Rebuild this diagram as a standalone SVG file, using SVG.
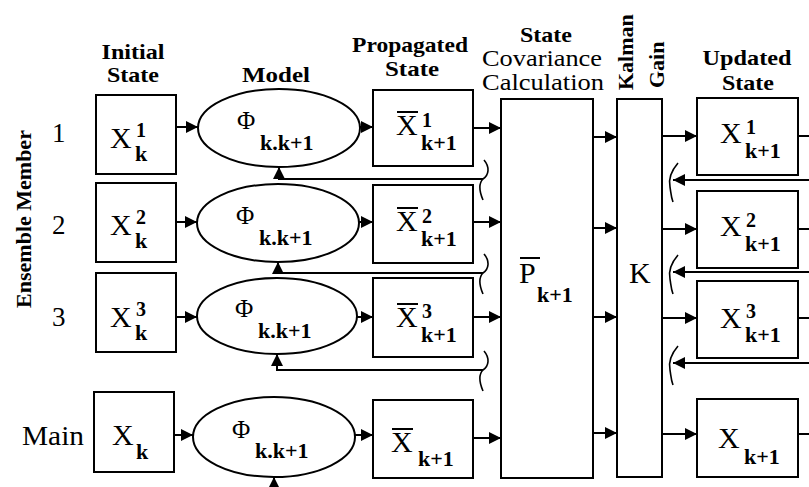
<svg xmlns="http://www.w3.org/2000/svg" width="809" height="487" viewBox="0 0 809 487">
<defs>
<marker id="ah" viewBox="0 0 12 12" refX="12" refY="6" markerWidth="12" markerHeight="12" markerUnits="userSpaceOnUse" orient="auto">
<path d="M0,0 L12,6 L0,12 z" fill="#000"/>
</marker>
<style>
.box{fill:#fff;stroke:#000;stroke-width:2}
.ln{fill:none;stroke:#000;stroke-width:2}
.sq{fill:none;stroke:#000;stroke-width:1.6}
.arr{fill:none;stroke:#000;stroke-width:2;marker-end:url(#ah)}
.t{font-family:'Liberation Serif','DejaVu Serif',serif;fill:#000}
.hd{font-size:22px;font-weight:bold;text-anchor:middle}
.hr{font-size:23px;text-anchor:middle}
.lb{font-size:27px}
.X{font-size:30px}
.sup{font-size:20px;font-weight:bold}
.sub{font-size:22px;font-weight:bold}
.phi{font-size:25px}
</style>
</defs>
<rect width="809" height="487" fill="#fff"/>
<g font-family="Liberation Serif, DejaVu Serif, serif">
<g id="labels">
<text class="t hd" x="133" y="59" textLength="63" lengthAdjust="spacingAndGlyphs">Initial</text>
<text class="t hd" x="133" y="82" textLength="52" lengthAdjust="spacingAndGlyphs">State</text>
<text class="t hd" x="276" y="82" textLength="68" lengthAdjust="spacingAndGlyphs">Model</text>
<text class="t hd" x="410" y="52" textLength="116" lengthAdjust="spacingAndGlyphs">Propagated</text>
<text class="t hd" x="412" y="76" textLength="54" lengthAdjust="spacingAndGlyphs">State</text>
<text class="t hd" x="546" y="42" textLength="52" lengthAdjust="spacingAndGlyphs">State</text>
<text class="t hr" x="542" y="66" textLength="120" lengthAdjust="spacingAndGlyphs">Covariance</text>
<text class="t hr" x="543" y="90" textLength="122" lengthAdjust="spacingAndGlyphs">Calculation</text>
<text class="t hd" x="747" y="65" textLength="89" lengthAdjust="spacingAndGlyphs">Updated</text>
<text class="t hd" x="748" y="90" textLength="52" lengthAdjust="spacingAndGlyphs">State</text>
<text class="t hd" transform="translate(633,90) rotate(-90)" style="text-anchor:start;font-size:22px">Kalman</text>
<text class="t hd" transform="translate(664,88) rotate(-90)" style="text-anchor:start;font-size:22px">Gain</text>
<text class="t hd" transform="translate(31,219) rotate(-90)" style="font-size:22px">Ensemble Member</text>
<text class="t lb" x="52" y="142">1</text>
<text class="t lb" x="52" y="234">2</text>
<text class="t lb" x="52" y="326">3</text>
<text class="t lb" x="22" y="445" textLength="62" lengthAdjust="spacingAndGlyphs">Main</text>
</g>

<g id="init1"><rect class="box" x="96" y="95" width="80" height="79"/>
<text class="t X" x="110" y="148">X</text><text class="t sup" x="136" y="137">1</text><text class="t sub" x="135" y="161">k</text></g>
<g id="init2"><rect class="box" x="96" y="183" width="80" height="79"/>
<text class="t X" x="110" y="235">X</text><text class="t sup" x="136" y="224">2</text><text class="t sub" x="135" y="248">k</text></g>
<g id="init3"><rect class="box" x="96" y="273" width="80" height="79"/>
<text class="t X" x="110" y="327">X</text><text class="t sup" x="136" y="316">3</text><text class="t sub" x="135" y="340">k</text></g>
<g id="initM"><rect class="box" x="94" y="392" width="80" height="80"/>
<text class="t X" x="112" y="445">X</text><text class="t sub" x="136" y="459">k</text></g>

<g id="model1"><ellipse class="box" cx="279" cy="128" rx="81" ry="39"/>
<text class="t phi" x="237" y="129">Φ</text><text class="t sub" x="260" y="150">k.k+1</text></g>
<g id="model2"><ellipse class="box" cx="278" cy="223" rx="81" ry="39"/>
<text class="t phi" x="236" y="224">Φ</text><text class="t sub" x="259" y="245">k.k+1</text></g>
<g id="model3"><ellipse class="box" cx="277" cy="316" rx="80" ry="38"/>
<text class="t phi" x="235" y="317">Φ</text><text class="t sub" x="258" y="338">k.k+1</text></g>
<g id="modelM"><ellipse class="box" cx="274" cy="437" rx="81" ry="40"/>
<text class="t phi" x="232" y="438">Φ</text><text class="t sub" x="255" y="458">k.k+1</text></g>

<g id="prop1"><rect class="box" x="373" y="90" width="100" height="76"/>
<text class="t X" x="396" y="135">X</text><line class="ln" x1="397" y1="112" x2="418" y2="112"/><text class="t sup" x="422" y="127">1</text><text class="t sub" x="421" y="150">k+1</text></g>
<g id="prop2"><rect class="box" x="373" y="185" width="100" height="78"/>
<text class="t X" x="396" y="231">X</text><line class="ln" x1="397" y1="208" x2="418" y2="208"/><text class="t sup" x="422" y="223">2</text><text class="t sub" x="421" y="246">k+1</text></g>
<g id="prop3"><rect class="box" x="373" y="278" width="100" height="79"/>
<text class="t X" x="396" y="327">X</text><line class="ln" x1="397" y1="304" x2="418" y2="304"/><text class="t sup" x="422" y="318">3</text><text class="t sub" x="421" y="342">k+1</text></g>
<g id="propM"><rect class="box" x="373" y="400" width="100" height="78"/>
<text class="t X" x="391" y="452">X</text><line class="ln" x1="392" y1="429" x2="413" y2="429"/><text class="t sub" x="418" y="466">k+1</text></g>

<g id="cov"><rect class="box" x="501" y="99" width="92" height="379"/>
<text class="t X" x="519" y="283">P</text><line class="ln" x1="520" y1="258" x2="540" y2="258"/><text class="t sub" x="537" y="302">k+1</text></g>

<g id="gain"><rect class="box" x="617" y="99" width="45" height="378"/>
<text class="t X" x="629" y="283">K</text></g>

<g id="upd1"><rect class="box" x="697" y="98" width="101" height="77"/>
<text class="t X" x="720" y="143">X</text><text class="t sup" x="746" y="134">1</text><text class="t sub" x="745" y="158">k+1</text></g>
<g id="upd2"><rect class="box" x="697" y="191" width="101" height="77"/>
<text class="t X" x="720" y="236">X</text><text class="t sup" x="746" y="227">2</text><text class="t sub" x="745" y="251">k+1</text></g>
<g id="upd3"><rect class="box" x="697" y="281" width="101" height="77"/>
<text class="t X" x="720" y="328">X</text><text class="t sup" x="746" y="318">3</text><text class="t sub" x="745" y="342">k+1</text></g>
<g id="updM"><rect class="box" x="697" y="399" width="101" height="78"/>
<text class="t X" x="718" y="448">X</text><text class="t sub" x="744" y="464">k+1</text></g>
</g>

<g id="connectors">
<path class="arr" d="M176 127 H198"/>
<path class="arr" d="M360 127 H373"/>
<path class="arr" d="M473 128 H501"/>
<path class="arr" d="M593 137 H617"/>
<path class="arr" d="M662 136 H697"/>
<path class="ln" d="M798 136 H809"/>

<path class="arr" d="M176 222 H197"/>
<path class="arr" d="M359 222 H373"/>
<path class="arr" d="M473 222 H501"/>
<path class="arr" d="M593 228 H617"/>
<path class="arr" d="M662 229 H697"/>
<path class="ln" d="M798 229 H809"/>

<path class="arr" d="M176 317 H197"/>
<path class="arr" d="M357 317 H373"/>
<path class="arr" d="M473 317 H501"/>
<path class="arr" d="M593 317 H617"/>
<path class="arr" d="M662 318 H697"/>
<path class="ln" d="M798 318 H809"/>

<path class="arr" d="M174 435 H193"/>
<path class="arr" d="M355 435 H373"/>
<path class="arr" d="M473 438 H501"/>
<path class="arr" d="M593 433 H617"/>
<path class="arr" d="M662 434 H697"/>
<path class="ln" d="M798 434 H809"/>

<path class="arr" d="M483 179 H279 V167"/>
<path class="arr" d="M483 273 H278 V262"/>
<path class="arr" d="M483 370 H277 V354"/>
<path class="arr" d="M274 487 V477"/>

<path class="sq" d="M484 160 C490 167 489 175 483 179 C478 184 480 193 483 200"/>
<path class="sq" d="M484 254 C490 261 489 269 483 273 C478 278 480 287 483 294"/>
<path class="sq" d="M484 351 C490 358 489 366 483 370 C478 375 480 384 483 391"/>

<path class="arr" d="M809 180 H673"/>
<path class="arr" d="M809 272 H673"/>
<path class="arr" d="M809 363 H673"/>
<path class="sq" d="M678 163 C672 170 668 178 670 187 C671 193 671 197 673 202"/>
<path class="sq" d="M678 255 C672 262 668 270 670 279 C671 285 671 289 673 294"/>
<path class="sq" d="M678 346 C672 353 668 361 670 370 C671 376 671 380 673 385"/>
</g>
</svg>
